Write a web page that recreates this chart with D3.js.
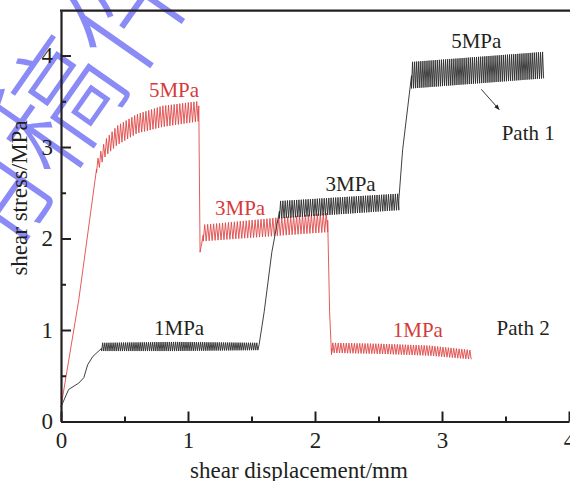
<!DOCTYPE html>
<html>
<head>
  <meta charset="utf-8">
  <title>Shear stress vs shear displacement</title>
  <style>
    body { margin: 0; background: #fff; }
    svg text { font-family: "Liberation Serif", "Times New Roman", serif; }
    .axis path, .axis line { stroke: #231f20; }
    .axis text { font-size: 23px; fill: #231f20; }
  </style>
</head>
<body>
  <div id="chart"></div>
  <script src="https://d3js.org/d3.v7.min.js"></script>
  <script>
    // Path 1 (black): loading 1 -> 3 -> 5 MPa
    const blackRamp = [[0, 0.16], [0.06, 0.35], [0.14, 0.42], [0.18, 0.48], [0.21, 0.62], [0.25, 0.71], [0.32, 0.80]];
    const black1MPa = { x: [0.32, 0.9, 1.55], low: [0.77, 0.77, 0.78], high: [0.86, 0.87, 0.86], teeth: 75 };
    const blackRise1 = [[1.56, 0.84], [1.60, 1.20], [1.66, 1.85], [1.72, 2.30]];
    const black3MPa = { x: [1.72, 2.66], low: [2.22, 2.31], high: [2.41, 2.49], teeth: 52 };
    const blackRise2 = [[2.66, 2.42], [2.69, 2.97], [2.76, 3.78]];
    const black5MPa = { x: [2.76, 3.80], low: [3.64, 3.75], high: [3.93, 4.04], teeth: 64 };

    // Path 2 (red): loading 5 -> 3 -> 1 MPa
    const redRamp = [[0, 0.16], [0.14, 1.33], [0.28, 2.76]];
    const red5MPa = { x: [0.28, 0.35, 0.44, 0.6, 0.8, 1.08], low: [2.72, 2.90, 3.02, 3.15, 3.22, 3.28], high: [2.84, 3.08, 3.23, 3.36, 3.45, 3.50], teeth: 36 };
    const redDrop1 = [[1.085, 3.45], [1.095, 1.85], [1.12, 2.04]];
    const red3MPa = { x: [1.12, 2.10], low: [1.97, 2.07], high: [2.15, 2.28], teeth: 42 };
    const redDrop2 = [[2.10, 2.20], [2.115, 1.20], [2.13, 0.73], [2.135, 0.80]];
    const red1MPa = { x: [2.13, 2.5, 2.9, 3.23], low: [0.75, 0.74, 0.72, 0.68], high: [0.86, 0.85, 0.83, 0.78], teeth: 52 };

    // text labels: [text, x, y(baseline), colour]
    const labels = [
      ["5MPa", 0.89, 3.55, "red"],
      ["3MPa", 1.41, 2.26, "red"],
      ["1MPa", 2.81, 0.92, "red"],
      ["1MPa", 0.93, 0.95, "black"],
      ["3MPa", 2.28, 2.52, "black"],
      ["5MPa", 3.27, 4.08, "black"]
    ];
    const pathLabels = [["Path 1", 3.47, 3.08], ["Path 2", 3.43, 0.95]];
    const arrowPts = [[3.31, 3.63], [3.45, 3.41]];

    const xTicks = [0, 1, 2, 3, 4];
    const xMinor = [0.5, 1.5, 2.5, 3.5];
    const yTicks = [0, 1, 2, 3, 4];
    const yMinor = [0.5, 1.5, 2.5, 3.5];

    const width = 570, height = 481;
    const RED = "#e04848", RED_TEXT = "#d63a3a", INK = "#231f20";

    const x = d3.scaleLinear().domain([0, 4]).range([61, 569]);
    const y = d3.scaleLinear().domain([0, 4.49]).range([421.5, 10.7]);

    const svg = d3.select("#chart").append("svg")
      .attr("width", width)
      .attr("height", height);

    // watermark
    const wm = svg.append("g").attr("opacity", 0.72);
    [["用", -17, 207], ["稿", 55, 105], ["件", 127, 3]].forEach(([ch, cx, cy]) => {
      wm.append("text")
        .attr("transform", `translate(${cx},${cy}) rotate(-55)`)
        .attr("text-anchor", "middle")
        .attr("dy", "0.38em")
        .style("font-family", "'Noto Sans CJK SC', sans-serif")
        .style("font-size", "125px")
        .style("font-weight", 200)
        .attr("fill", "#5f5ff5")
        .text(ch);
    });

    // turn a band (envelope) into its zigzag of teeth
    function zigzag(b) {
      const lo = d3.scaleLinear().domain(b.x).range(b.low);
      const hi = d3.scaleLinear().domain(b.x).range(b.high);
      const x0 = b.x[0], x1 = b.x[b.x.length - 1];
      const n = b.teeth * 2;
      return d3.range(n + 1).map(i => {
        const xv = x0 + (x1 - x0) * i / n;
        return [xv, i % 2 === 0 ? lo(xv) : hi(xv)];
      });
    }

    const line = d3.line().x(d => x(d[0])).y(d => y(d[1]));

    const blackPts = [].concat(blackRamp, zigzag(black1MPa), blackRise1, zigzag(black3MPa), blackRise2, zigzag(black5MPa));
    const redPts = [].concat(redRamp, zigzag(red5MPa), redDrop1, zigzag(red3MPa), redDrop2, zigzag(red1MPa));

    svg.append("path")
      .attr("d", line(redPts))
      .attr("fill", "none")
      .attr("stroke", RED)
      .attr("stroke-width", 0.9);

    svg.append("path")
      .attr("d", line(blackPts))
      .attr("fill", "none")
      .attr("stroke", "#2a2a2a")
      .attr("stroke-width", 0.9);

    // axes
    svg.append("g").attr("class", "axis")
      .attr("transform", `translate(0,${y(0)})`)
      .call(d3.axisBottom(x).tickValues(xTicks).tickFormat(d3.format("d"))
        .tickSizeInner(-10).tickSizeOuter(0).tickPadding(10));
    svg.append("g").attr("class", "axis")
      .attr("transform", `translate(0,${y(0)})`)
      .call(d3.axisBottom(x).tickValues(xMinor).tickFormat("").tickSizeInner(-5).tickSizeOuter(0))
      .select(".domain").remove();

    svg.append("g").attr("class", "axis")
      .attr("transform", `translate(${x(0)},0)`)
      .call(d3.axisLeft(y).tickValues(yTicks).tickFormat(d3.format("d"))
        .tickSizeInner(-10).tickSizeOuter(0).tickPadding(8));
    svg.append("g").attr("class", "axis")
      .attr("transform", `translate(${x(0)},0)`)
      .call(d3.axisLeft(y).tickValues(yMinor).tickFormat("").tickSizeInner(-5).tickSizeOuter(0))
      .select(".domain").remove();

    svg.selectAll(".axis .domain").attr("stroke-width", 2.2);
    svg.selectAll(".axis .tick line").attr("stroke-width", 2);

    // top frame
    svg.append("line")
      .attr("x1", x(0) - 1).attr("x2", width)
      .attr("y1", y(4.49)).attr("y2", y(4.49))
      .attr("stroke", INK).attr("stroke-width", 2.2);

    // axis titles
    svg.append("text")
      .attr("x", 299).attr("y", 478)
      .attr("text-anchor", "middle")
      .style("font-size", "23px").attr("fill", INK)
      .text("shear displacement/mm");

    svg.append("text")
      .attr("transform", "translate(27,198) rotate(-90)")
      .attr("text-anchor", "middle")
      .style("font-size", "23px").attr("fill", INK)
      .text("shear stress/MPa");

    // stress level labels
    svg.selectAll("text.lvl").data(labels).join("text")
      .attr("class", "lvl")
      .attr("x", d => x(d[1])).attr("y", d => y(d[2]))
      .attr("text-anchor", "middle")
      .style("font-size", "21px")
      .attr("fill", d => d[3] === "red" ? RED_TEXT : INK)
      .text(d => d[0]);

    svg.selectAll("text.path").data(pathLabels).join("text")
      .attr("class", "path")
      .attr("x", d => x(d[1])).attr("y", d => y(d[2]))
      .style("font-size", "21px")
      .attr("fill", INK)
      .text(d => d[0]);

    // arrow towards Path 1
    svg.append("defs").append("marker")
      .attr("id", "arrow")
      .attr("viewBox", "0 0 10 10")
      .attr("refX", 9).attr("refY", 5)
      .attr("markerWidth", 6).attr("markerHeight", 6)
      .attr("orient", "auto")
      .append("path").attr("d", "M0,1 L10,5 L0,9 Z").attr("fill", INK);

    svg.append("line")
      .attr("x1", x(arrowPts[0][0])).attr("y1", y(arrowPts[0][1]))
      .attr("x2", x(arrowPts[1][0])).attr("y2", y(arrowPts[1][1]))
      .attr("stroke", INK).attr("stroke-width", 0.9)
      .attr("marker-end", "url(#arrow)");
  </script>
</body>
</html>
